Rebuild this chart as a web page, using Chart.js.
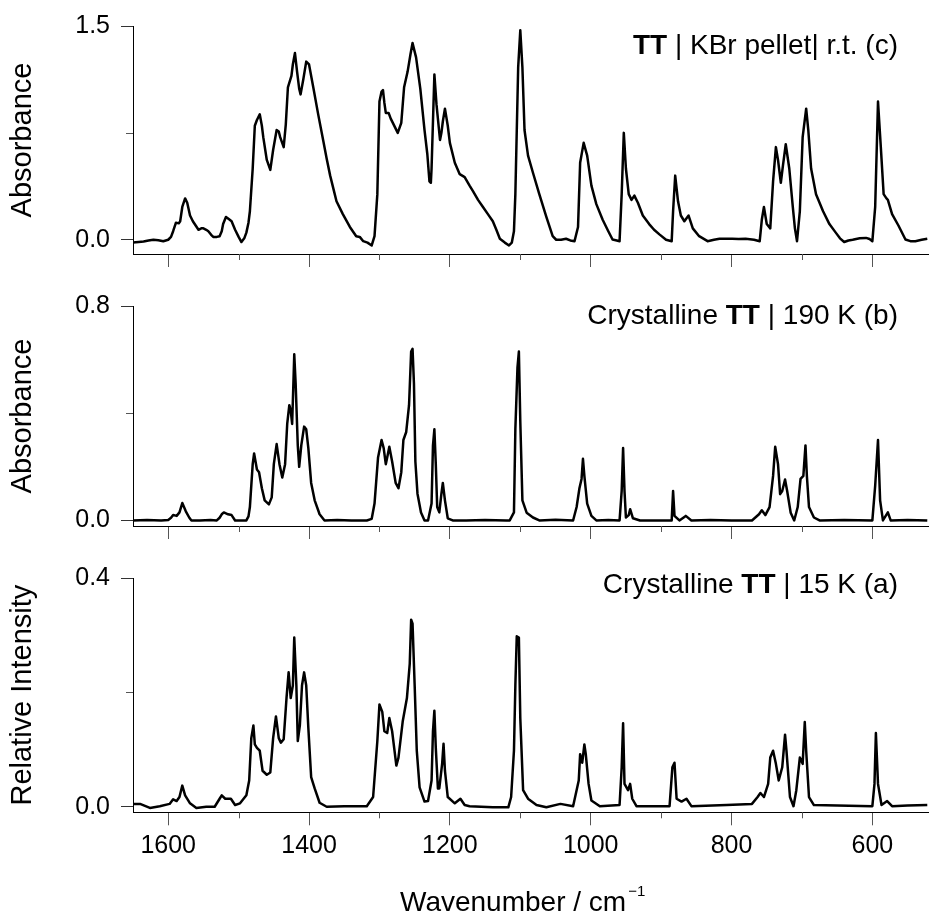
<!DOCTYPE html>
<html><head><meta charset="utf-8">
<script src="https://cdn.jsdelivr.net/npm/chart.js@4"></script>
<style>
body{margin:0;width:930px;height:915px;background:#fff;position:relative;overflow:hidden;font-family:"Liberation Sans",Arial,sans-serif;color:#000}
canvas{position:absolute;left:0}
.ann{position:absolute;right:32px;font-size:28px;line-height:28px;white-space:nowrap}
.xt{position:absolute;left:400px;top:888px;font-size:28px;line-height:28px;white-space:nowrap}
.xt sup{font-size:15px;vertical-align:15px;line-height:0;margin-left:2px}
</style></head><body>
<canvas id="c1" width="930" height="280" style="top:0px"></canvas>
<canvas id="c2" width="930" height="272" style="top:280px"></canvas>
<canvas id="c3" width="930" height="363" style="top:552px"></canvas>
<div class="ann" style="top:31px"><b>TT</b> | KBr pellet| r.t. (c)</div>
<div class="ann" style="top:301px">Crystalline <b>TT</b> | 190 K (b)</div>
<div class="ann" style="top:570px">Crystalline <b>TT</b> | 15 K (a)</div>
<div class="xt">Wavenumber / cm<sup>&minus;1</sup></div>
<script>
// ---------- data ----------
const majorXTicks = [1600, 1400, 1200, 1000, 800, 600];
const minorXTicks = [1500, 1300, 1100, 900, 700];

// (c) KBr pellet, r.t.
const wnC = [1650,1642,1635,1628,1621,1614,1607,1600,1596,1593,1589,1585,1583,1580,1576,1573,1569,1565,1561,1557,1553,1550,1546,1543,1539,1536,1531,1527,1524,1522,1518,1514,1510,1505,1500,1496,1492,1489,1486,1484,1480,1477,1474,1470,1467,1465,1460,1455,1451,1446,1443,1441,1436,1433,1430,1425,1423,1420,1417,1414,1412,1408,1404,1400,1394,1387,1380,1375,1370,1365,1361,1352,1342,1333,1328,1323,1317,1311,1307,1303,1300,1297,1295,1293,1291,1287,1284,1281,1274,1269,1265,1260,1256,1253,1248,1242,1236,1232,1229,1227,1226,1222,1219,1214,1212,1210,1207,1203,1200,1193,1186,1179,1172,1167,1160,1153,1146,1139,1134,1129,1122,1116,1112,1109,1107,1103,1100,1097,1094,1089,1082,1073,1063,1054,1049,1042,1035,1029,1023,1018,1015,1010,1005,999,992,983,975,969,963,959,956,953,950,946,942,938,933,926,917,910,902,893,885,883,880,876,872,867,861,855,846,834,825,817,808,799,790,780,768,760,757,754,750,745,741,737,734,730,727,723,718,713,710,707,703,699,694,691,687,680,670,661,652,646,640,634,628,618,609,604,600,596,592,588,584,580,578,572,563,553,546,539,530,522];
const absC = [-0.02,-0.015,-0.012,-0.005,0.0,-0.003,-0.01,0.0,0.02,0.06,0.12,0.115,0.13,0.23,0.29,0.26,0.17,0.13,0.10,0.07,0.08,0.08,0.07,0.06,0.035,0.02,0.02,0.025,0.06,0.11,0.16,0.145,0.13,0.07,0.02,-0.016,0.01,0.05,0.12,0.2,0.5,0.8,0.84,0.88,0.8,0.72,0.56,0.49,0.63,0.77,0.76,0.72,0.65,0.81,1.07,1.15,1.23,1.31,1.18,1.06,1.02,1.13,1.25,1.23,1.07,0.88,0.70,0.57,0.45,0.35,0.27,0.18,0.09,0.025,0.02,-0.01,-0.02,-0.04,0.025,0.32,0.97,1.04,1.05,0.96,0.89,0.89,0.85,0.82,0.75,0.82,1.07,1.18,1.30,1.38,1.28,1.06,0.77,0.6,0.41,0.40,0.5,1.16,0.95,0.7,0.75,0.83,0.92,0.8,0.68,0.54,0.46,0.44,0.38,0.34,0.28,0.23,0.18,0.13,0.07,0.007,-0.02,-0.04,-0.02,0.06,0.32,1.21,1.47,1.21,0.77,0.59,0.47,0.32,0.16,0.025,0.0,0.0,0.007,-0.005,-0.01,0.09,0.54,0.68,0.59,0.38,0.25,0.14,0.06,0.002,-0.005,-0.01,0.32,0.75,0.5,0.32,0.28,0.31,0.26,0.17,0.11,0.07,0.036,0.0,-0.01,0.2,0.45,0.27,0.17,0.13,0.17,0.08,0.025,-0.01,0.0,0.007,0.007,0.007,0.005,0.007,0.0,-0.01,0.14,0.23,0.11,0.08,0.41,0.65,0.56,0.40,0.52,0.67,0.5,0.23,0.08,-0.01,0.2,0.72,0.92,0.77,0.5,0.32,0.2,0.11,0.05,0.01,-0.016,-0.005,0.0,0.01,0.013,0.005,-0.01,0.23,0.97,0.65,0.32,0.29,0.28,0.18,0.10,0.002,-0.01,-0.01,0.0,0.007];

// (b) crystalline, 190 K
const wnB = [1650,1630,1610,1600,1596,1593,1588,1584,1580,1575,1570,1567,1555,1540,1531,1527,1524,1521,1515,1510,1505,1495,1489,1486,1484,1480,1478,1476,1474,1471,1467,1463,1457,1453,1450,1446,1442,1438,1434,1431,1428,1426,1424,1422,1421,1419,1416,1414,1411,1407,1404,1401,1397,1392,1385,1378,1360,1340,1318,1311,1307,1302,1297,1294,1291,1289,1286,1282,1277,1273,1269,1266,1262,1258,1255,1253,1251,1249,1246,1241,1236,1231,1226,1224,1222,1220,1218,1215,1212,1210,1207,1203,1196,1177,1150,1120,1115,1109,1107,1104,1102,1100,1097,1091,1082,1073,1050,1025,1020,1016,1013,1011,1009,1005,999,992,975,959,956,954,952,950,946,944,940,930,902,885,883,881,874,865,857,830,800,771,761,757,752,746,741,738,734,731,728,724,721,716,711,706,702,698,695,693,690,683,675,640,600,596,592,589,585,578,574,550,522];
const absB = [0,0.002,0,0.002,0.01,0.02,0.017,0.03,0.065,0.034,0.01,0,0,0.002,0,0.01,0.023,0.03,0.023,0.02,0,0,0,0.015,0.05,0.21,0.25,0.22,0.19,0.18,0.12,0.075,0.06,0.086,0.21,0.285,0.21,0.16,0.21,0.36,0.43,0.41,0.36,0.53,0.62,0.51,0.28,0.2,0.28,0.35,0.34,0.27,0.14,0.075,0.023,0,0.002,0,0,0.006,0.063,0.235,0.30,0.27,0.21,0.235,0.275,0.22,0.14,0.12,0.18,0.30,0.33,0.43,0.63,0.64,0.51,0.22,0.1,0.03,0,0,0.063,0.28,0.34,0.21,0.05,0.03,0.1,0.14,0.075,0.008,0,0,0.002,0,0,0.03,0.34,0.57,0.63,0.37,0.075,0.029,0.011,0,0.003,0,0.05,0.12,0.155,0.23,0.166,0.063,0.017,0,0.002,0,0.11,0.27,0.11,0.011,0.02,0.042,0.008,0,0,0,0.11,0.017,0,0.017,0,0.002,0,0,0.023,0.038,0.02,0.05,0.166,0.275,0.21,0.098,0.11,0.153,0.11,0.029,0,0.05,0.155,0.166,0.28,0.166,0.05,0.011,0,0.002,0,0.13,0.30,0.075,0,0.03,0,0.002,0];

// (a) crystalline, 15 K
const wnA = [1650,1640,1626,1612,1598,1593,1588,1584,1580,1576,1569,1560,1546,1534,1527,1524,1519,1511,1505,1498,1489,1485,1482,1479,1477,1474,1470,1466,1460,1455,1451,1447,1443,1440,1436,1432,1429,1426,1423,1421,1418,1416,1413,1410,1407,1404,1401,1397,1392,1385,1375,1350,1318,1309,1303,1300,1296,1293,1289,1286,1282,1276,1273,1267,1261,1257,1255,1253,1250,1247,1243,1236,1231,1226,1224,1222,1220,1217,1215,1211,1209,1207,1203,1193,1185,1179,1172,1139,1117,1113,1109,1107,1105,1102,1100,1096,1089,1077,1063,1043,1025,1017,1015,1012,1009,1007,1003,999,987,959,956,954,952,947,944,941,935,888,884,881,878,871,864,857,807,771,763,759,754,748,745,741,737,733,728,724,722,717,712,708,705,703,699,696,694,690,683,650,600,597,595,592,587,579,572,550,522];
const intA = [0.005,0.005,-0.002,0.001,0.005,0.013,0.01,0.017,0.037,0.02,0.006,-0.002,0,0,0.014,0.02,0.014,0.014,0.003,0.006,0.02,0.046,0.12,0.142,0.109,0.103,0.098,0.063,0.056,0.06,0.12,0.158,0.12,0.112,0.118,0.19,0.235,0.19,0.212,0.296,0.212,0.115,0.143,0.212,0.235,0.212,0.138,0.052,0.032,0.007,0,0.001,0.001,0.017,0.115,0.179,0.166,0.132,0.129,0.155,0.132,0.072,0.086,0.149,0.19,0.25,0.327,0.32,0.212,0.098,0.034,0.009,0.01,0.046,0.132,0.168,0.103,0.032,0.032,0.075,0.11,0.063,0.017,0.006,0.014,0.003,0.001,-0.001,-0.001,0.017,0.098,0.212,0.298,0.296,0.155,0.029,0.014,0.003,-0.001,0.005,0.001,0.046,0.092,0.077,0.109,0.092,0.04,0.011,0.001,0.003,0.069,0.146,0.04,0.029,0.04,0.014,0.001,0.001,0.069,0.077,0.014,0.009,0.014,0.001,0.003,0.005,0.017,0.024,0.017,0.04,0.086,0.098,0.075,0.046,0.069,0.126,0.098,0.017,0.001,0.029,0.063,0.086,0.075,0.148,0.098,0.017,0.003,0.002,0.001,0.04,0.129,0.04,0.003,0.01,0.001,0.002,0.003];

// ---------- drawing ----------
Chart.defaults.font.family = '"Liberation Sans", Arial, sans-serif';
Chart.defaults.color = '#000';

const minorTicks = {
  id: 'minorTicks',
  afterDraw(chart, args, opts) {
    const ctx = chart.ctx, xs = chart.scales.x, ys = chart.scales.y;
    ctx.save();
    ctx.strokeStyle = '#555';
    ctx.lineWidth = 1;
    ctx.beginPath();
    minorXTicks.forEach(v => {
      const px = Math.round(xs.getPixelForValue(v)) + 0.5;
      ctx.moveTo(px, xs.top);
      ctx.lineTo(px, xs.top + 6);
    });
    const py = Math.round(ys.getPixelForValue(opts.yMid)) + 0.5;
    ctx.moveTo(ys.right - 7, py);
    ctx.lineTo(ys.right, py);
    ctx.stroke();
    ctx.restore();
  }
};

function makeChart(id, xs, ys, yMin, yMax, yTitle, padTop, showX, xHeight) {
  return new Chart(document.getElementById(id), {
    type: 'line',
    data: { datasets: [{
      data: xs.map((x, i) => ({ x: x, y: ys[i] })),
      borderColor: '#000', borderWidth: 2.5, pointRadius: 0, tension: 0, fill: false,
      borderJoinStyle: 'round'
    }]},
    options: {
      responsive: false, animation: false, events: [],
      layout: { padding: { top: padTop, left: 0, right: 1.3, bottom: 0 } },
      plugins: { legend: { display: false }, tooltip: { enabled: false }, minorTicks: { yMid: yMax / 2 } },
      scales: {
        x: {
          type: 'linear', reverse: true, min: 520, max: 1650,
          afterBuildTicks: s => { s.ticks = majorXTicks.map(v => ({ value: v })); },
          afterFit: s => { s.height = xHeight; },
          grid: { drawOnChartArea: false, drawTicks: true, tickLength: 13, tickColor: '#555', tickWidth: 1 },
          border: { display: true, color: '#000', width: 1 },
          ticks: { display: showX, autoSkip: false, maxRotation: 0, padding: 6, color: '#000',
                   font: { size: 25 }, callback: v => String(v) }
        },
        y: {
          min: yMin, max: yMax,
          afterBuildTicks: s => { s.ticks = [{ value: 0 }, { value: yMax }]; },
          afterFit: s => { s.width = 133; },
          grid: { drawOnChartArea: false, drawTicks: true, tickLength: 12, tickColor: '#333', tickWidth: 1 },
          border: { display: true, color: '#000', width: 1 },
          ticks: { padding: 11, color: '#000', font: { size: 25 }, callback: v => Number(v).toFixed(1) },
          title: { display: true, text: yTitle, color: '#000', font: { size: 29 }, padding: { top: 6, bottom: 0 } }
        }
      }
    },
    plugins: [minorTicks]
  });
}

makeChart('c1', wnC, absC, -0.1, 1.5, 'Absorbance', 24.5, false, 17.7);
makeChart('c2', wnB, absB, -0.0207, 0.8, 'Absorbance', 16, false, 17.7);
makeChart('c3', wnA, intA, -0.0097, 0.4, 'Relative Intensity', 22.3, true, 102.7);
</script>
</body></html>
